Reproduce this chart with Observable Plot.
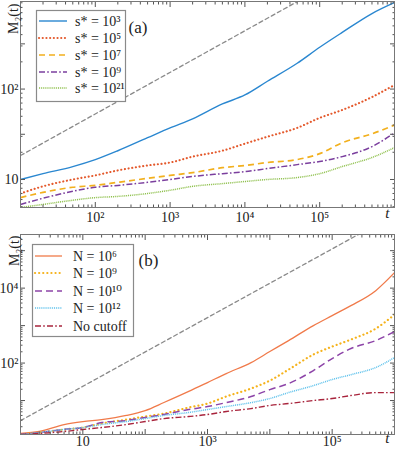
<!DOCTYPE html>
<html><head><meta charset="utf-8">
<script src="https://cdn.jsdelivr.net/npm/d3@7"></script>
<script src="https://cdn.jsdelivr.net/npm/@observablehq/plot@0.6"></script>
<style>
html,body{margin:0;padding:0;background:#fff;}
#wrap{position:relative;width:395px;height:449px;overflow:hidden;}
#wrap svg{display:block;}
#leg{position:absolute;left:0;top:0;pointer-events:none;}
</style></head><body><div id="wrap"></div>
<script>
// ---------- Panel (a) data ----------
const tA = [10,20,50,100,200,500,1e3,2e3,5e3,1e4,2e4,5e4,1e5,2e5,5e5,1e6];
const sStar3  = [10,11.6,13.9,16.6,20.8,29,37.2,46.8,68.4,86,122,193,290,423,684,904];
const sStar5  = [7.0,8.4,10,11.1,12.6,14.3,15.4,17.9,20.8,24.9,29.7,37.2,48,58.7,81.6,111];
const sStar7  = [6.3,7.2,8.2,8.6,9.3,10.3,11.1,11.9,13.5,14.3,15.4,16.6,19.3,25.5,32,40];
const sStar9  = [5.3,6.2,7.4,8.2,8.6,9.3,10,10.8,11.6,12.2,13.2,14.6,15.8,17.9,23.1,32.8];
const sStar21 = [4.9,5.3,5.9,6.3,6.5,7.0,7.6,8.4,9.0,9.5,10,10.5,11.6,13.9,17.5,22.5];
const refAT = [10, 1e6];
const refAM = [18.4, 3670];
const legendA = ["s* = 10³","s* = 10⁵","s* = 10⁷","s* = 10⁹","s* = 10²¹"];
const xTicksA = [1e2,1e3,1e4,1e5];
const xLabelsA = ["10²","10³","10⁴","10⁵"];
const yTicksA = [10,100];
const yLabelsA = ["10","10²"];

// ---------- Panel (b) data ----------
const tB = [1,2,5,10,20,50,100,200,500,1e3,2e3,5e3,1e4,2e4,5e4,1e5,2e5,5e5,1e6];
const n6  = [1.32,1.49,2.29,2.75,3.1,4.0,5.4,8.85,17.5,30.2,52.5,103,203,398,1000,1850,3410,8570,25900];
const n9  = [1.24,1.4,1.69,1.9,2.44,3.1,3.74,4.5,6.5,8.3,12.8,20.9,34,67,169,275,424,832,1960];
const n10 = [1.24,1.4,1.69,1.9,2.59,2.93,3.52,4.24,5.75,6.9,8.8,12.8,19.6,28.4,63,132,244,398,692];
const n12 = [1.24,1.4,1.69,1.9,2.29,2.75,3.3,4.0,4.8,5.75,6.9,8.8,11.3,16.3,25,36.3,49,76,140];
const noCut = [1.24,1.32,1.49,1.69,1.9,2.29,2.75,3.3,3.74,4.24,5.1,6.1,7.4,8.3,10,11.3,13.6,16.3,16.3];
const refBT = [1, 1e6];
const refBM = [2.9, 9.2e5];
const legendB = ["N = 10⁶","N = 10⁹","N = 10¹⁰","N = 10¹²","No cutoff"];
const xTicksB = [10,1e3,1e5];
const xLabelsB = ["10","10³","10⁵"];
const yTicksB = [1e2,1e4];
const yLabelsB = ["10²","10⁴"];

const FONT = "'Liberation Serif', 'DejaVu Serif', serif";
const styA = [
  {color:"#2a87d0", width:1.4, dash:null, cap:"butt"},
  {color:"#e4592c", width:2.1, dash:"0.1,3.6", cap:"round"},
  {color:"#f2b01e", width:1.7, dash:"6,4", cap:"butt"},
  {color:"#7b3f9e", width:1.5, dash:"6,2.2,1.6,2.2", cap:"butt"},
  {color:"#8dbf4a", width:1.5, dash:"1,0.9", cap:"butt"}
];
const styB = [
  {color:"#f07a4a", width:1.3, dash:null, cap:"butt"},
  {color:"#f5b21b", width:2.2, dash:"0.1,4", cap:"round"},
  {color:"#8d44a8", width:1.5, dash:"7,4", cap:"butt"},
  {color:"#5bc0eb", width:1.5, dash:"1,0.9", cap:"butt"},
  {color:"#a8243c", width:1.4, dash:"6,2.2,1.6,2.2", cap:"butt"}
];

function rows(ts, ms){ return ts.map((t,i)=>({t, m: ms[i]})); }
function minor(lo, hi){
  const out=[];
  for(let k=Math.floor(Math.log10(lo)); k<=Math.ceil(Math.log10(hi)); k++)
    for(let j=2;j<=9;j++){ const v=j*10**k; if(v>lo && v<hi) out.push(v); }
  return out;
}
function decades(lo, hi){
  const out=[];
  for(let k=Math.ceil(Math.log10(lo)); k<=Math.floor(Math.log10(hi)); k++){ const v=10**k; if(v>lo&&v<hi) out.push(v);}
  return out;
}
function tickMarks(xDom, yDom, xMaj, yMaj){
  const xm = minor(...xDom), ym = minor(...yDom);
  const c = "#555";
  return [
    Plot.axisX(xMaj, {anchor:"bottom", tickSize:-5, fill:"none", stroke:c, label:null}),
    Plot.axisX(xMaj, {anchor:"top", tickSize:-5, fill:"none", stroke:c, label:null}),
    Plot.axisX(xm, {anchor:"bottom", tickSize:-2.5, fill:"none", stroke:c, label:null}),
    Plot.axisX(xm, {anchor:"top", tickSize:-2.5, fill:"none", stroke:c, label:null}),
    Plot.axisY(yMaj, {anchor:"left", tickSize:-5, fill:"none", stroke:c, label:null}),
    Plot.axisY(yMaj, {anchor:"right", tickSize:-5, fill:"none", stroke:c, label:null}),
    Plot.axisY(ym, {anchor:"left", tickSize:-2.5, fill:"none", stroke:c, label:null}),
    Plot.axisY(ym, {anchor:"right", tickSize:-2.5, fill:"none", stroke:c, label:null})
  ];
}
function lookup(vals, labs){ const m=new Map(vals.map((v,i)=>[v,labs[i]])); return d=>m.get(d); }

const wrap = document.getElementById("wrap");

// ---------- Panel (a) ----------
const xDomA=[10,1e6], yDomA=[4.9,930];
const seriesA=[sStar3,sStar5,sStar7,sStar9,sStar21];
const yMajA = decades(...yDomA).concat(decades(...yDomA).map(v=>v*Math.sqrt(10)).filter(v=>v<yDomA[1]));
const plotA = Plot.plot({
  width:395, height:226, marginLeft:20, marginRight:1, marginTop:1, marginBottom:19,
  style:{fontFamily:FONT, fontSize:"14px", color:"#222", background:"white"},
  x:{type:"log", domain:xDomA, label:null},
  y:{type:"log", domain:yDomA, label:null},
  marks:[
    Plot.line(rows(refAT, refAM), {x:"t", y:"m", stroke:"#8a8a8a", strokeWidth:1.3, strokeDasharray:"4,3", clip:true}),
    ...seriesA.map((s,i)=>Plot.line(rows(tA,s), {x:"t", y:"m", curve:"monotone-x", stroke:styA[i].color, strokeWidth:styA[i].width,
       strokeDasharray:styA[i].dash, strokeLinecap:styA[i].cap, clip:true})),
    ...tickMarks(xDomA, yDomA, decades(...xDomA), yMajA),
    Plot.axisX(xTicksA, {anchor:"bottom", tickSize:0, tickPadding:5, tickFormat:lookup(xTicksA,xLabelsA), fontSize:14, fontFamily:FONT, label:null}),
    Plot.axisY(yTicksA, {anchor:"left", tickSize:0, tickPadding:2, tickFormat:lookup(yTicksA,yLabelsA), fontSize:14, fontFamily:FONT, label:null}),
    Plot.frame({stroke:"#777"}),
    Plot.text(["M₂(t)"], {frameAnchor:"top-left", rotate:-90, textAnchor:"end", dx:-12, dy:2, fontSize:14, fontFamily:FONT, fill:"#222"}),
    Plot.text(["t"], {frameAnchor:"bottom-right", dx:-5, dy:10, fontSize:15, fontStyle:"italic", fontFamily:FONT, fill:"#222"}),
    Plot.text(["(a)"], {frameAnchor:"top-left", textAnchor:"start", dx:108, dy:19, fontSize:17, fontFamily:FONT, fill:"#222"})
  ]
});
wrap.appendChild(plotA);

// ---------- Panel (b) ----------
const xDomB=[1,1e6], yDomB=[1.24,2.7e5];
const seriesB=[n6,n9,n10,n12,noCut];
const plotB = Plot.plot({
  width:395, height:223, marginLeft:20, marginRight:1, marginTop:8, marginBottom:15,
  style:{fontFamily:FONT, fontSize:"14px", color:"#222", background:"white"},
  x:{type:"log", domain:xDomB, label:null},
  y:{type:"log", domain:yDomB, label:null},
  marks:[
    Plot.line(rows(refBT, refBM), {x:"t", y:"m", stroke:"#8a8a8a", strokeWidth:1.3, strokeDasharray:"4,3", clip:true}),
    ...seriesB.map((s,i)=>Plot.line(rows(tB,s), {x:"t", y:"m", curve:"monotone-x", stroke:styB[i].color, strokeWidth:styB[i].width,
       strokeDasharray:styB[i].dash, strokeLinecap:styB[i].cap, clip:true})),
    ...tickMarks(xDomB, yDomB, decades(...xDomB), decades(...yDomB)),
    Plot.axisX(xTicksB, {anchor:"bottom", tickSize:0, tickPadding:2, tickFormat:lookup(xTicksB,xLabelsB), fontSize:14, fontFamily:FONT, label:null}),
    Plot.axisY(yTicksB, {anchor:"left", tickSize:0, tickPadding:2, tickFormat:lookup(yTicksB,yLabelsB), fontSize:14, fontFamily:FONT, label:null}),
    Plot.frame({stroke:"#777"}),
    Plot.text(["M₂(t)"], {frameAnchor:"top-left", rotate:-90, textAnchor:"end", dx:-11, dy:1, fontSize:14, fontFamily:FONT, fill:"#222"}),
    Plot.text(["t"], {frameAnchor:"bottom-right", dx:-5, dy:8, fontSize:15, fontStyle:"italic", fontFamily:FONT, fill:"#222"}),
    Plot.text(["(b)"], {frameAnchor:"top-left", textAnchor:"start", dx:118, dy:19, fontSize:17, fontFamily:FONT, fill:"#222"})
  ]
});
wrap.appendChild(plotB);

// ---------- Legends ----------
const leg = d3.select(wrap).append("svg").attr("id","leg").attr("width",395).attr("height",449);
function drawLegend(box, labels, sty, rowY, lx0, lx1, tx){
  leg.append("rect").attr("x",box[0]+0.5).attr("y",box[1]+0.5).attr("width",box[2]).attr("height",box[3])
    .attr("fill","white").attr("stroke","#8a8a8a").attr("stroke-width",1.2);
  labels.forEach((lab,i)=>{
    const y=rowY[i];
    leg.append("line").attr("x1",lx0).attr("x2",lx1).attr("y1",y).attr("y2",y)
      .attr("stroke",sty[i].color).attr("stroke-width",sty[i].width)
      .attr("stroke-dasharray",sty[i].dash).attr("stroke-linecap",sty[i].cap);
    leg.append("text").attr("x",tx).attr("y",y).attr("dy","0.35em")
      .attr("font-family",FONT).attr("font-size",14).attr("fill","#222").text(lab);
  });
}
drawLegend([36,10,89,91], legendA, styA, [21,38,55,72,88], 39, 67, 75);
drawLegend([32,244,101,92], legendB, styB, [256,273,291,308,326], 35, 62, 73);
</script></body></html>
